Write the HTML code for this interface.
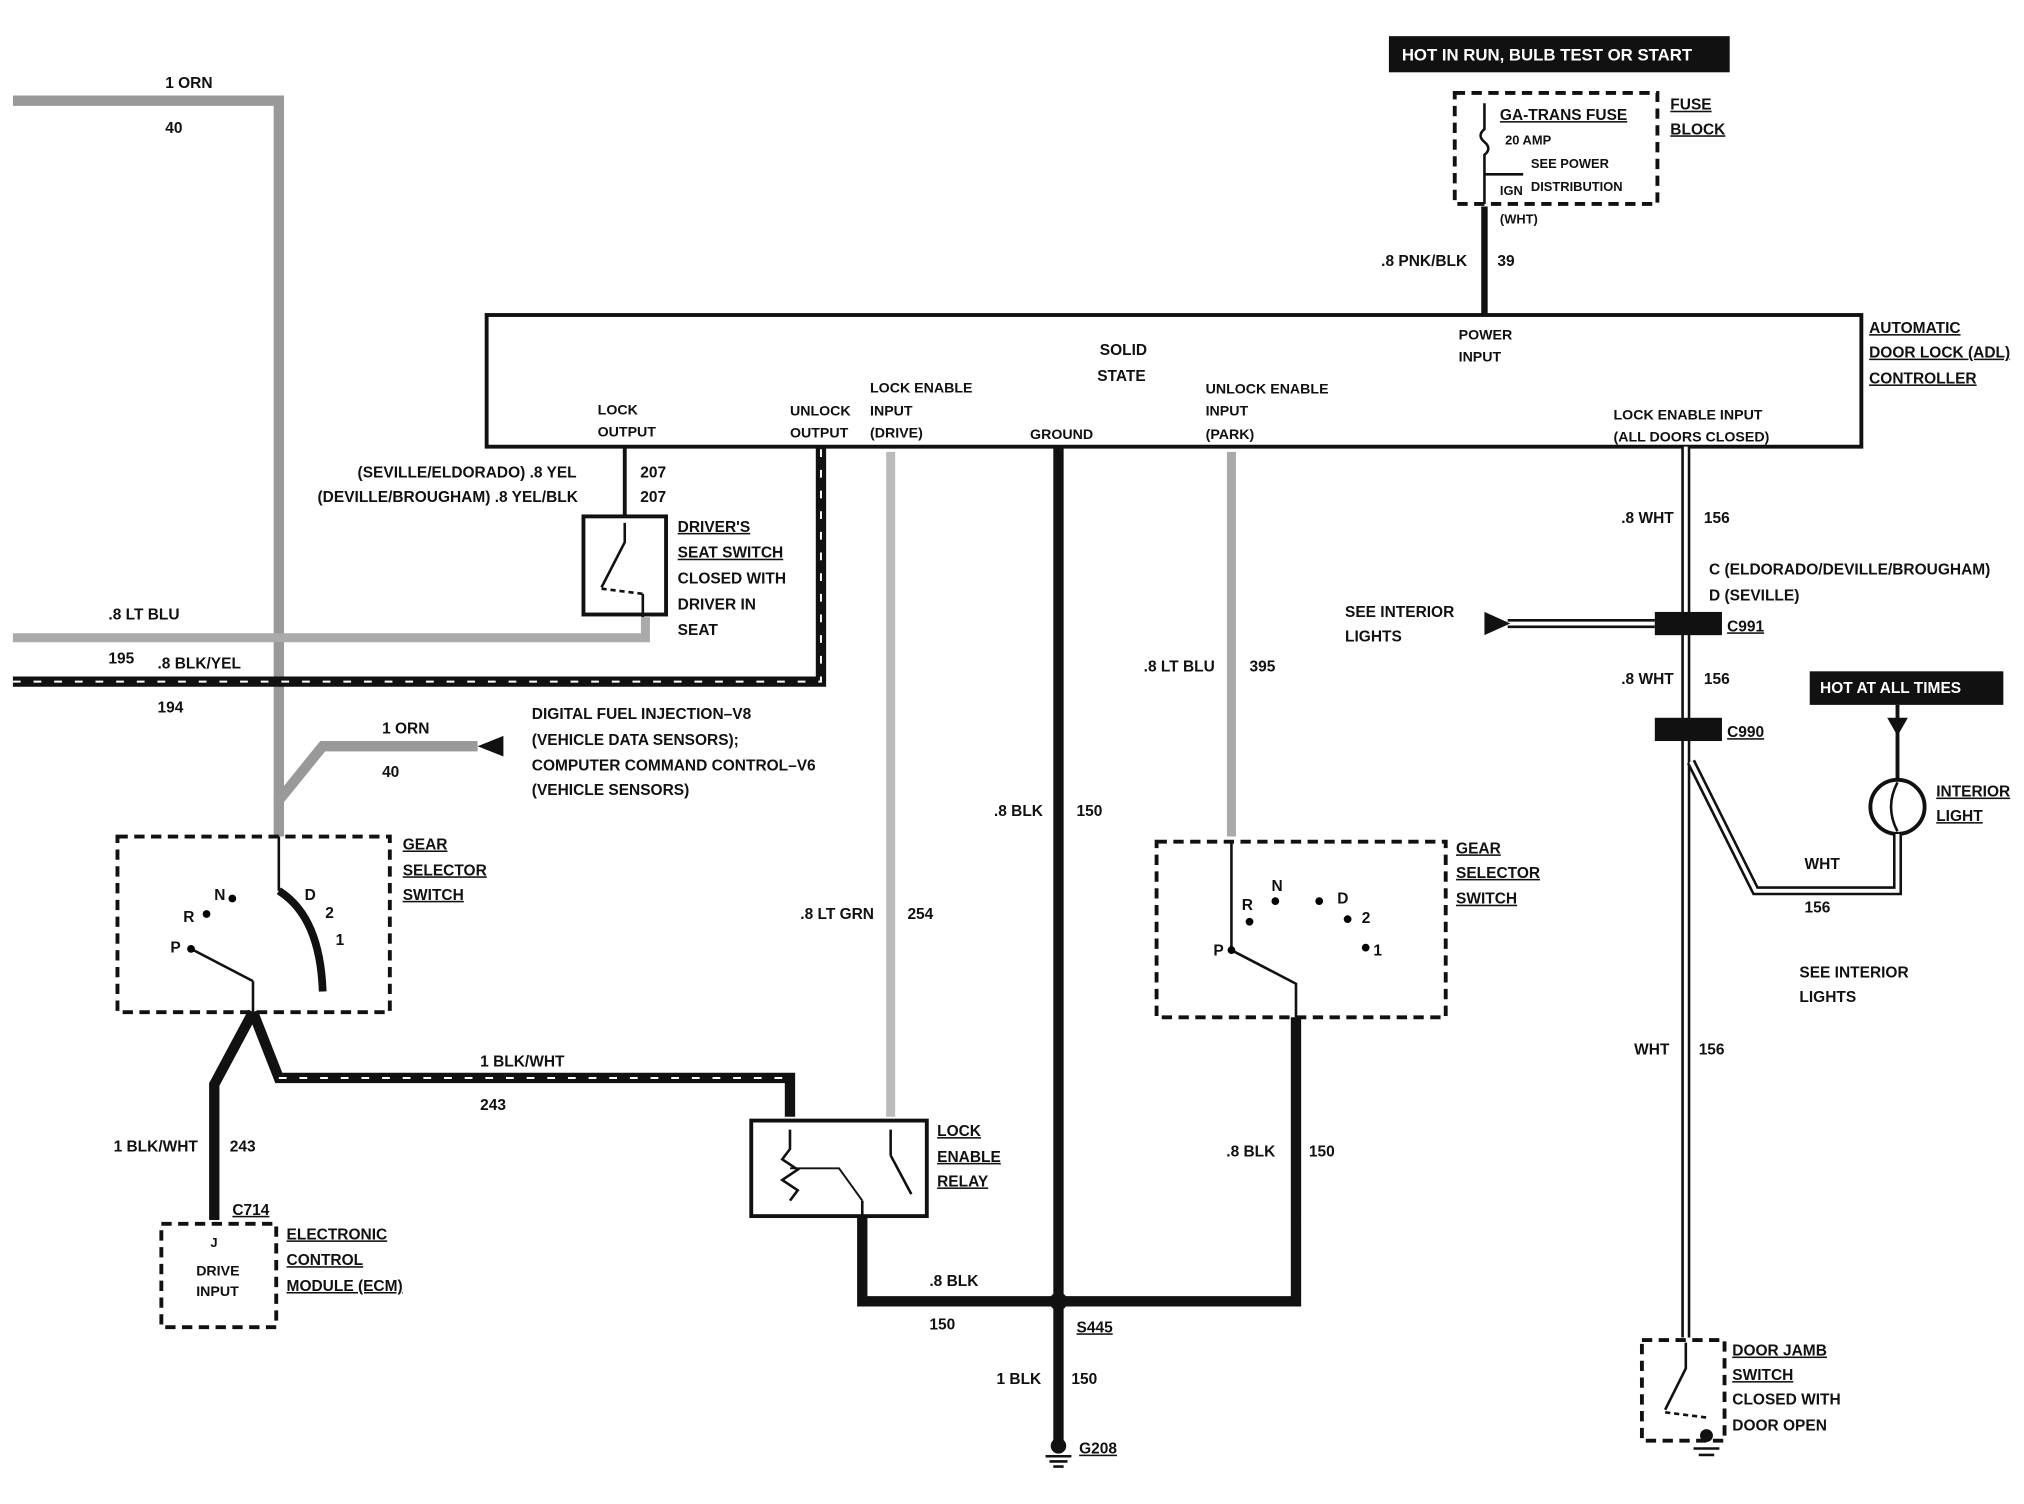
<!DOCTYPE html>
<html><head><meta charset="utf-8"><style>
html,body{margin:0;padding:0;background:#fff}
svg{display:block}
text{font-family:"Liberation Sans",sans-serif;font-weight:bold;font-size:12px;fill:#111}
</style></head><body>
<svg width="2024" height="1504" viewBox="0 0 1568 1165" preserveAspectRatio="none" xmlns="http://www.w3.org/2000/svg">
<rect width="1568" height="1165" fill="#fff"/>
<!-- top label -->
<rect x="1076" y="28" width="264" height="28" fill="#111"/>
<text x="1086" y="47" style="fill:#fff;font-size:13px">HOT IN RUN,  BULB TEST OR START</text>
<!-- fuse block -->
<rect x="1127" y="72" width="157" height="86" fill="none" stroke="#111" stroke-width="3" stroke-dasharray="8,5"/>
<text x="1162" y="93" text-decoration="underline">GA-TRANS FUSE</text>
<text x="1166" y="112" style="font-size:10px">20 AMP</text>
<text x="1186" y="130" style="font-size:10px">SEE POWER</text>
<text x="1162" y="151" style="font-size:10px">IGN</text>
<text x="1186" y="148" style="font-size:10px">DISTRIBUTION</text>
<text x="1294" y="85" text-decoration="underline">FUSE</text>
<text x="1294" y="104" text-decoration="underline">BLOCK</text>
<path d="M1150 80 V100 q-6 5 0 10 q6 5 0 10 V158" fill="none" stroke="#111" stroke-width="2"/>
<line x1="1150" y1="135" x2="1180" y2="135" stroke="#111" stroke-width="2"/>
<text x="1162" y="173" style="font-size:10px">(WHT)</text>
<line x1="1150" y1="160" x2="1150" y2="245" stroke="#111" stroke-width="5"/>
<text x="1070" y="206">.8 PNK/BLK</text><text x="1160" y="206">39</text>
<!-- controller -->
<rect x="377" y="244" width="1065" height="102" fill="none" stroke="#111" stroke-width="3"/>
<text x="852" y="275">SOLID</text><text x="850" y="295">STATE</text>
<text x="1130" y="263" style="font-size:11px">POWER</text><text x="1130" y="280" style="font-size:11px">INPUT</text>
<text x="463" y="321" style="font-size:11px">LOCK</text><text x="463" y="338" style="font-size:11px">OUTPUT</text>
<text x="612" y="322" style="font-size:11px">UNLOCK</text><text x="612" y="339" style="font-size:11px">OUTPUT</text>
<text x="674" y="304" style="font-size:11px">LOCK ENABLE</text><text x="674" y="322" style="font-size:11px">INPUT</text><text x="674" y="339" style="font-size:11px">(DRIVE)</text>
<text x="798" y="340" style="font-size:11px">GROUND</text>
<text x="934" y="305" style="font-size:11px">UNLOCK ENABLE</text><text x="934" y="322" style="font-size:11px">INPUT</text><text x="934" y="340" style="font-size:11px">(PARK)</text>
<text x="1250" y="325" style="font-size:11px">LOCK ENABLE INPUT</text><text x="1250" y="342" style="font-size:11px">(ALL DOORS CLOSED)</text>
<text x="1448" y="258" text-decoration="underline">AUTOMATIC</text>
<text x="1448" y="277" text-decoration="underline">DOOR LOCK (ADL)</text>
<text x="1448" y="297" text-decoration="underline">CONTROLLER</text>
<!-- ORN wire top -->
<polyline points="10,78 216,78 216,620" fill="none" stroke="#999" stroke-width="8"/>
<text x="128" y="68">1 ORN</text><text x="128" y="103">40</text>
<!-- LT BLU -->
<polyline points="10,494 500,494 500,478" fill="none" stroke="#aaa" stroke-width="7"/>
<text x="84" y="480">.8 LT BLU</text><text x="84" y="514">195</text>
<!-- BLK/YEL -->
<polyline points="10,528 636,528 636,346" fill="none" stroke="#111" stroke-width="8"/>
<polyline points="10,528 636,528 636,346" fill="none" stroke="#fff" stroke-width="1.5" stroke-dasharray="6,10"/>
<text x="122" y="518">.8 BLK/YEL</text><text x="122" y="552">194</text>
<!-- seat switch -->
<line x1="484" y1="346" x2="484" y2="400" stroke="#111" stroke-width="3"/>
<text x="277" y="370">(SEVILLE/ELDORADO)  .8 YEL</text><text x="496" y="370">207</text>
<text x="246" y="389">(DEVILLE/BROUGHAM)  .8 YEL/BLK</text><text x="496" y="389">207</text>
<rect x="452" y="400" width="64" height="76" fill="none" stroke="#111" stroke-width="3"/>
<polyline points="484,405 484,420 466,455" fill="none" stroke="#111" stroke-width="2"/>
<line x1="466" y1="456" x2="498" y2="460" stroke="#111" stroke-width="2" stroke-dasharray="4,3"/>
<line x1="498" y1="460" x2="498" y2="478" stroke="#111" stroke-width="2"/>
<text x="525" y="412" text-decoration="underline">DRIVER'S</text>
<text x="525" y="432" text-decoration="underline">SEAT SWITCH</text>
<text x="525" y="452">CLOSED WITH</text><text x="525" y="472">DRIVER IN</text><text x="525" y="492">SEAT</text>
<!-- ORN from DFI -->
<polyline points="370,578 250,578 216,620 216,648" fill="none" stroke="#999" stroke-width="8"/>
<polygon points="370,578 390,570 390,586" fill="#111"/>
<text x="296" y="568">1 ORN</text><text x="296" y="602">40</text>
<text x="412" y="557">DIGITAL FUEL INJECTION–V8</text>
<text x="412" y="577">(VEHICLE DATA SENSORS);</text>
<text x="412" y="597">COMPUTER COMMAND CONTROL–V6</text>
<text x="412" y="616">(VEHICLE SENSORS)</text>
<!-- gear selector 1 -->
<rect x="91" y="648" width="211" height="136" fill="none" stroke="#111" stroke-width="3" stroke-dasharray="8,5"/>
<line x1="216" y1="648" x2="216" y2="690" stroke="#111" stroke-width="2"/>
<path d="M216 690 Q248 710 250 768" fill="none" stroke="#111" stroke-width="6"/>
<line x1="148" y1="735" x2="196" y2="760" stroke="#111" stroke-width="2"/>
<line x1="196" y1="760" x2="196" y2="784" stroke="#111" stroke-width="2"/>
<circle cx="148" cy="735" r="3"/><circle cx="160" cy="708" r="3"/><circle cx="180" cy="696" r="3"/>
<text x="132" y="738">P</text><text x="142" y="714">R</text><text x="166" y="697">N</text><text x="236" y="697">D</text><text x="252" y="711">2</text><text x="260" y="732">1</text>
<text x="312" y="658" text-decoration="underline">GEAR</text><text x="312" y="678" text-decoration="underline">SELECTOR</text><text x="312" y="697" text-decoration="underline">SWITCH</text>
<!-- BLK/WHT -->
<polyline points="196,784 166,840 166,945" fill="none" stroke="#111" stroke-width="8"/>
<polyline points="196,784 216,835 612,835 612,865" fill="none" stroke="#111" stroke-width="8"/>
<polyline points="216,835 612,835" fill="none" stroke="#fff" stroke-width="1.5" stroke-dasharray="6,10"/>
<text x="372" y="826">1 BLK/WHT</text><text x="372" y="860">243</text>
<text x="88" y="892">1 BLK/WHT</text><text x="178" y="892">243</text>
<!-- ECM -->
<rect x="125" y="948" width="89" height="80" fill="none" stroke="#111" stroke-width="3" stroke-dasharray="8,5"/>
<text x="180" y="941" text-decoration="underline">C714</text>
<text x="163" y="966" style="font-size:10px">J</text>
<text x="152" y="988" style="font-size:11px">DRIVE</text><text x="152" y="1004" style="font-size:11px">INPUT</text>
<text x="222" y="960" text-decoration="underline">ELECTRONIC</text><text x="222" y="980" text-decoration="underline">CONTROL</text><text x="222" y="1000" text-decoration="underline">MODULE (ECM)</text>
<!-- LT GRN -->
<line x1="690" y1="350" x2="690" y2="865" stroke="#bbb" stroke-width="7"/>
<text x="620" y="712">.8 LT GRN</text><text x="703" y="712">254</text>
<!-- relay -->
<rect x="582" y="868" width="136" height="74" fill="none" stroke="#111" stroke-width="3"/>
<polyline points="612,875 612,890 606,898 618,906 606,914 618,922 612,930" fill="none" stroke="#111" stroke-width="2"/>
<polyline points="612,905 650,905 668,930" fill="none" stroke="#111" stroke-width="1.5"/>
<line x1="690" y1="875" x2="690" y2="895" stroke="#111" stroke-width="2"/>
<line x1="690" y1="895" x2="706" y2="925" stroke="#111" stroke-width="2"/>
<line x1="668" y1="930" x2="668" y2="942" stroke="#111" stroke-width="2"/>
<text x="726" y="880" text-decoration="underline">LOCK</text><text x="726" y="900" text-decoration="underline">ENABLE</text><text x="726" y="919" text-decoration="underline">RELAY</text>
<!-- ground wire -->
<line x1="820" y1="346" x2="820" y2="1118" stroke="#111" stroke-width="8"/>
<text x="770" y="632">.8 BLK</text><text x="834" y="632">150</text>
<polyline points="668,942 668,1008 1004,1008 1004,788" fill="none" stroke="#111" stroke-width="8"/>
<circle cx="820" cy="1008" r="7" fill="#111"/>
<text x="720" y="996">.8 BLK</text><text x="720" y="1030">150</text>
<text x="950" y="896">.8 BLK</text><text x="1014" y="896">150</text>
<text x="834" y="1032" text-decoration="underline">S445</text>
<text x="772" y="1072">1 BLK</text><text x="830" y="1072">150</text>
<circle cx="820" cy="1120" r="6" fill="#111"/>
<line x1="810" y1="1128" x2="830" y2="1128" stroke="#111" stroke-width="2"/>
<line x1="813" y1="1132" x2="827" y2="1132" stroke="#111" stroke-width="2"/>
<line x1="816" y1="1136" x2="824" y2="1136" stroke="#111" stroke-width="2"/>
<text x="836" y="1126" text-decoration="underline">G208</text>
<!-- LT BLU 395 -->
<line x1="954" y1="350" x2="954" y2="648" stroke="#aaa" stroke-width="7"/>
<text x="886" y="520">.8 LT BLU</text><text x="968" y="520">395</text>
<!-- gear selector 2 -->
<rect x="896" y="652" width="224" height="136" fill="none" stroke="#111" stroke-width="3" stroke-dasharray="8,5"/>
<polyline points="954,652 954,736 1004,762 1004,788" fill="none" stroke="#111" stroke-width="2"/>
<circle cx="954" cy="736" r="3"/><circle cx="968" cy="714" r="3"/><circle cx="988" cy="698" r="3"/><circle cx="1022" cy="698" r="3"/><circle cx="1044" cy="712" r="3"/><circle cx="1058" cy="734" r="3"/>
<text x="940" y="740">P</text><text x="962" y="705">R</text><text x="985" y="690">N</text><text x="1036" y="700">D</text><text x="1055" y="715">2</text><text x="1064" y="740">1</text>
<text x="1128" y="661" text-decoration="underline">GEAR</text><text x="1128" y="680" text-decoration="underline">SELECTOR</text><text x="1128" y="700" text-decoration="underline">SWITCH</text>
<!-- WHT 156 -->
<line x1="1306" y1="346" x2="1306" y2="1036" stroke="#111" stroke-width="7"/>
<line x1="1306" y1="346" x2="1306" y2="1036" stroke="#fff" stroke-width="3"/>
<text x="1256" y="405">.8 WHT</text><text x="1320" y="405">156</text>
<text x="1324" y="445">C (ELDORADO/DEVILLE/BROUGHAM)</text><text x="1324" y="465">D (SEVILLE)</text>
<line x1="1168" y1="483" x2="1282" y2="483" stroke="#111" stroke-width="7"/>
<line x1="1168" y1="483" x2="1282" y2="483" stroke="#fff" stroke-width="3"/>
<polygon points="1150,474 1170,483 1150,492" fill="#111"/>
<text x="1042" y="478">SEE INTERIOR</text><text x="1042" y="497">LIGHTS</text>
<rect x="1282" y="474" width="52" height="18" fill="#111"/>
<text x="1338" y="489" text-decoration="underline">C991</text>
<text x="1256" y="530">.8 WHT</text><text x="1320" y="530">156</text>
<rect x="1282" y="556" width="52" height="18" fill="#111"/>
<text x="1338" y="571" text-decoration="underline">C990</text>
<rect x="1402" y="520" width="150" height="26" fill="#111"/>
<text x="1410" y="537" style="fill:#fff">HOT AT ALL TIMES</text>
<polygon points="1462,556 1478,556 1470,570" fill="#111"/>
<line x1="1470" y1="546" x2="1470" y2="604" stroke="#111" stroke-width="3"/>
<circle cx="1470" cy="625" r="21" fill="#fff" stroke="#111" stroke-width="3"/>
<path d="M1470 606 q-10 19 0 38" fill="none" stroke="#111" stroke-width="2"/>
<text x="1500" y="617" text-decoration="underline">INTERIOR</text><text x="1500" y="636" text-decoration="underline">LIGHT</text>
<polyline points="1310,590 1360,690 1470,690 1470,646" fill="none" stroke="#111" stroke-width="7"/>
<polyline points="1310,590 1360,690 1470,690 1470,646" fill="none" stroke="#fff" stroke-width="3"/>
<text x="1398" y="673">WHT</text><text x="1398" y="707">156</text>
<text x="1394" y="757">SEE INTERIOR</text><text x="1394" y="776">LIGHTS</text>
<text x="1266" y="817">WHT</text><text x="1316" y="817">156</text>
<!-- door jamb -->
<rect x="1272" y="1038" width="64" height="78" fill="none" stroke="#111" stroke-width="3" stroke-dasharray="8,5"/>
<polyline points="1306,1040 1306,1060 1290,1092" fill="none" stroke="#111" stroke-width="2"/>
<line x1="1290" y1="1094" x2="1322" y2="1098" stroke="#111" stroke-width="2" stroke-dasharray="4,3"/>
<circle cx="1322" cy="1112" r="5" fill="#111"/>
<line x1="1312" y1="1122" x2="1332" y2="1122" stroke="#111" stroke-width="2"/>
<line x1="1316" y1="1127" x2="1328" y2="1127" stroke="#111" stroke-width="2"/>
<text x="1342" y="1050" text-decoration="underline">DOOR JAMB</text><text x="1342" y="1069" text-decoration="underline">SWITCH</text>
<text x="1342" y="1088">CLOSED WITH</text><text x="1342" y="1108">DOOR OPEN</text>
</svg>
</body></html>
